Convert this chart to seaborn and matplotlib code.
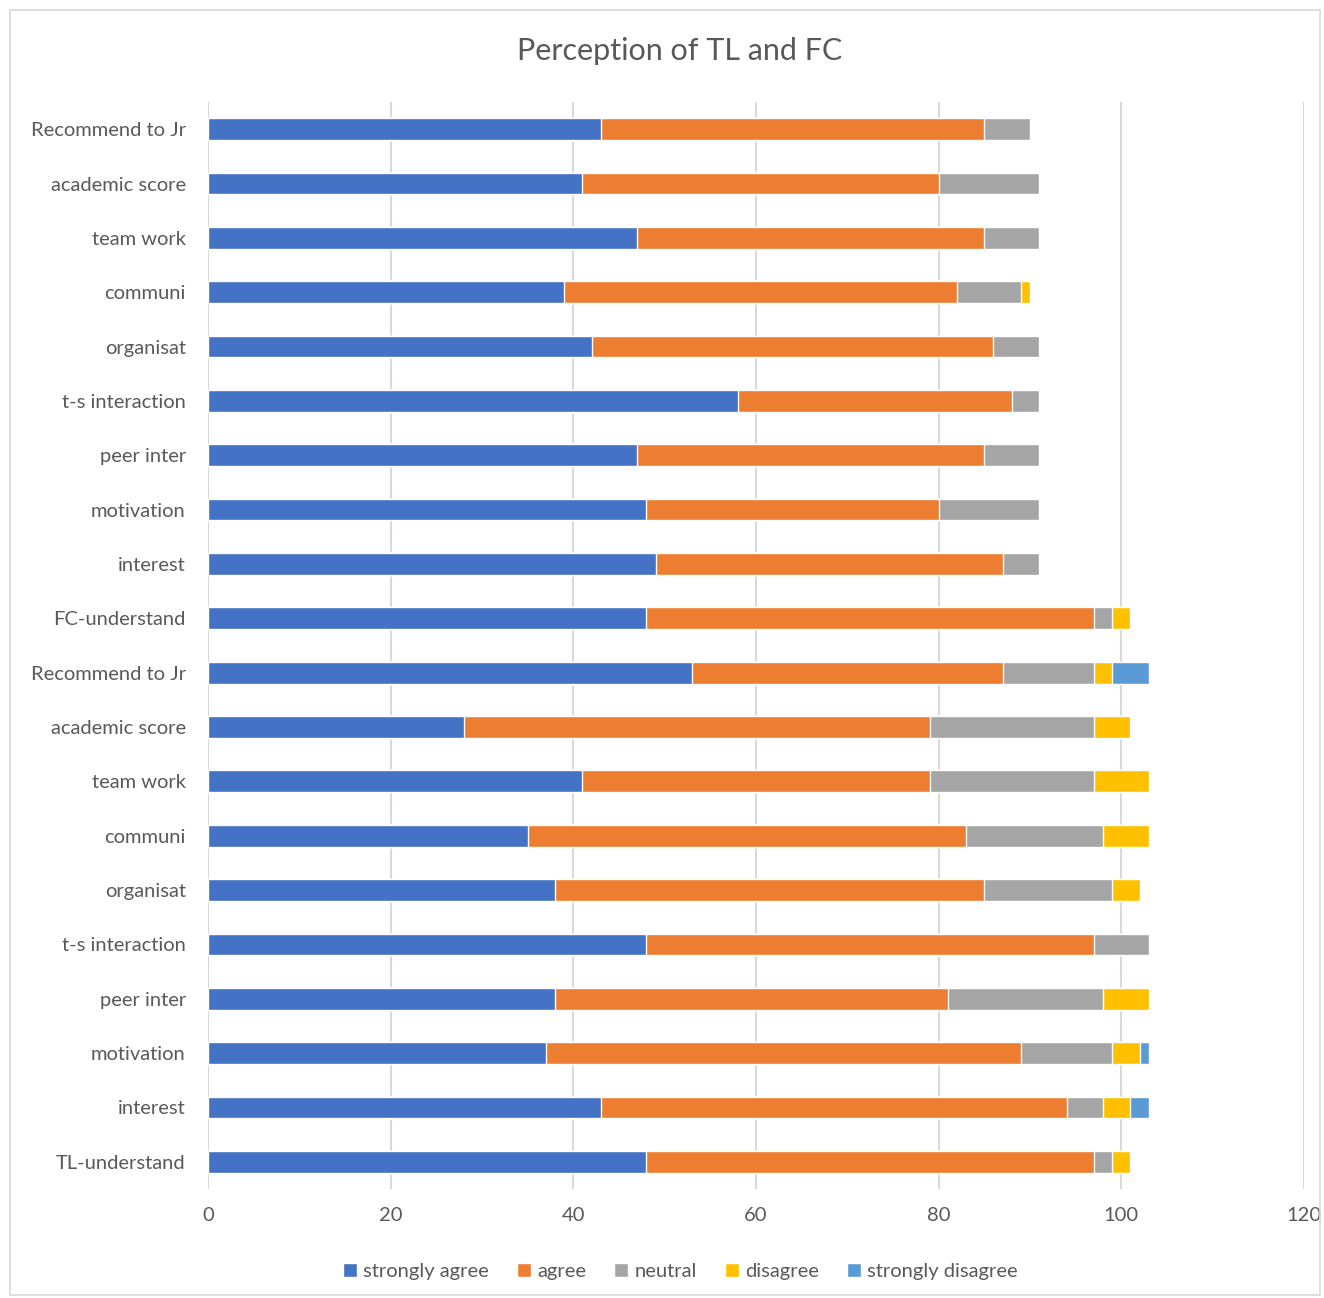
import numpy as np
import pandas as pd
import matplotlib
matplotlib.use('Agg')
import matplotlib.pyplot as plt
import seaborn as sns
from matplotlib.patches import Rectangle

categories = ['Recommend to Jr', 'academic score', 'team work', 'communi', 'organisat',
              't-s interaction', 'peer inter', 'motivation', 'interest', 'FC-understand',
              'Recommend to Jr', 'academic score', 'team work', 'communi', 'organisat',
              't-s interaction', 'peer inter', 'motivation', 'interest', 'TL-understand']

strongly_agree = [43, 41, 47, 39, 42, 58, 47, 48, 49, 48, 53, 28, 41, 35, 38, 48, 38, 37, 43, 48]
agree = [42, 39, 38, 43, 44, 30, 38, 32, 38, 49, 34, 51, 38, 48, 47, 49, 43, 52, 51, 49]
neutral = [5, 11, 6, 7, 5, 3, 6, 11, 4, 2, 10, 18, 18, 15, 14, 6, 17, 10, 4, 2]
disagree = [0, 0, 0, 1, 0, 0, 0, 0, 0, 2, 2, 4, 6, 5, 3, 0, 5, 3, 3, 2]
strongly_disagree = [0, 0, 0, 0, 0, 0, 0, 0, 0, 0, 4, 0, 0, 0, 0, 0, 0, 1, 2, 0]

series = ['strongly agree', 'agree', 'neutral', 'disagree', 'strongly disagree']
colors = ['#4472C4', '#ED7D31', '#A5A5A5', '#FFC000', '#5B9BD5']

df = pd.DataFrame({
    'row': np.arange(len(categories)),
    'strongly agree': strongly_agree,
    'agree': agree,
    'neutral': neutral,
    'disagree': disagree,
    'strongly disagree': strongly_disagree,
})
cum = df[series].cumsum(axis=1)
cum['row'] = df['row']

sns.set_style('white')
plt.rcParams['font.family'] = ['Lato', 'DejaVu Sans']
txt = '#595959'

fig = plt.figure(figsize=(13.24, 12.98), dpi=100)
ax = fig.add_axes([0.1571, 0.0840, 0.8278, 0.8374])

# draw widest cumulative first so the shorter segments sit on top
for name, col in reversed(list(zip(series, colors))):
    sns.barplot(data=cum, x=name, y='row', orient='y', color=col, width=0.4,
                edgecolor='white', linewidth=1.0, saturation=1, ax=ax, label=name)

ax.set_xlim(0, 120)
ax.set_xticks(range(0, 121, 20))
ax.set_yticks(range(len(categories)))
ax.set_yticklabels(categories)
ax.set_ylim(len(categories) - 0.5, -0.5)
ax.set_xlabel('')
ax.set_ylabel('')
ax.grid(axis='x', color='#d9d9d9', linewidth=1.5)
ax.set_axisbelow(True)
for s in ax.spines.values():
    s.set_visible(False)
ax.tick_params(axis='both', length=0, labelsize=14.5, labelcolor=txt)
ax.tick_params(axis='y', pad=16)
ax.tick_params(axis='x', pad=13)

handles, labels = ax.get_legend_handles_labels()
order = [labels.index(s) for s in series]
ax.legend([handles[i] for i in order], series, loc='upper center',
          bbox_to_anchor=(0.431, -0.051), ncol=5, frameon=False, fontsize=14.5,
          labelcolor=txt, handlelength=0.7, handleheight=0.7, handletextpad=0.3,
          columnspacing=1.4)

fig.text(0.513, 0.961, 'Perception of TL and FC', ha='center', va='center',
         fontsize=22, color=txt)

fig.patches.append(Rectangle((10 / 1324, 1 - 1295 / 1298), 1310 / 1324, 1285 / 1298,
                             transform=fig.transFigure, fill=False,
                             edgecolor='#d9d9d9', linewidth=1.2))

fig.savefig('out.png', dpi=100)
